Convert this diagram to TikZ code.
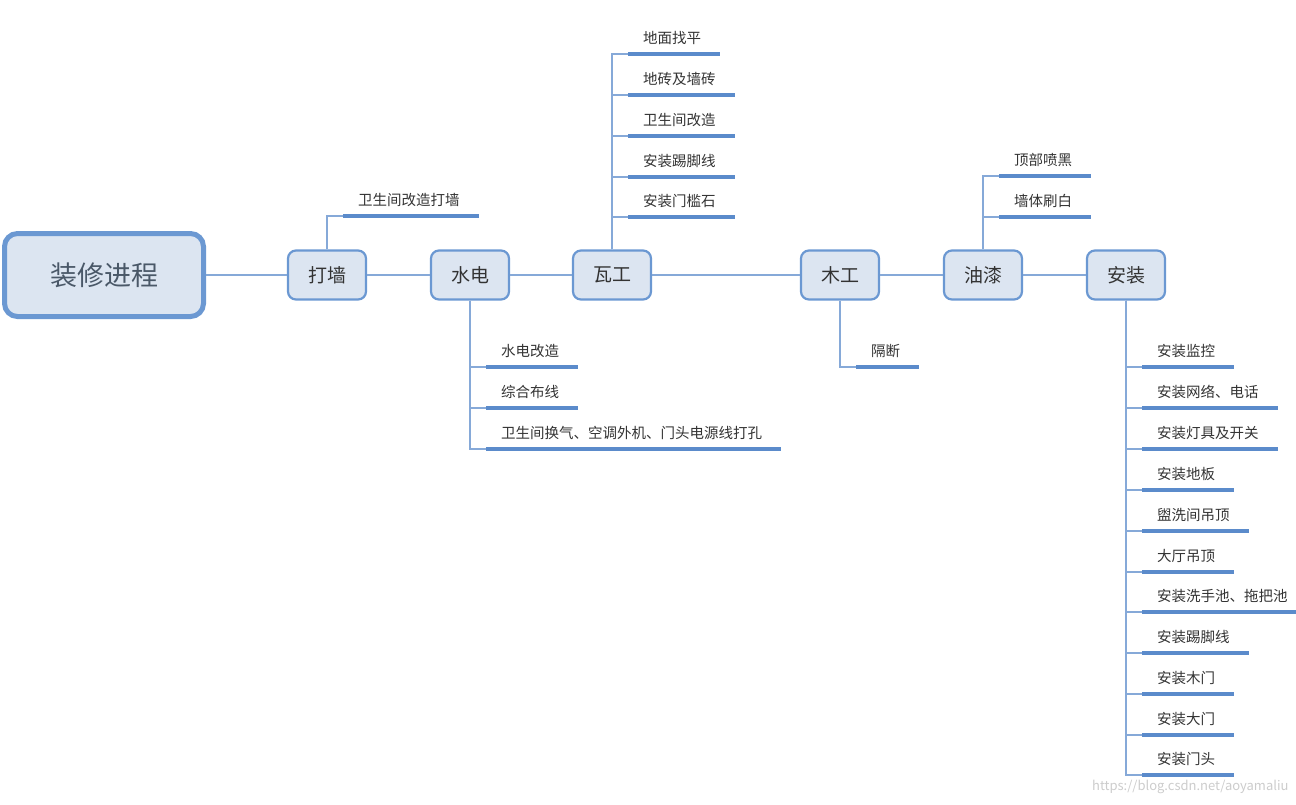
\documentclass[tikz,border=0pt]{standalone}
\usepackage{fontspec}
\setmainfont{Noto Sans CJK SC}
\usetikzlibrary{positioning}
\definecolor{boxfill}{HTML}{DCE5F1}
\definecolor{boxline}{HTML}{6B98D2}
\definecolor{ulinecol}{HTML}{5B8BCB}
\definecolor{linkcol}{HTML}{86A9D8}
\definecolor{txt}{HTML}{333333}
\definecolor{roottxt}{HTML}{4A5868}
\begin{document}
\begin{tikzpicture}[x=1pt, y=-1pt,
	stage/.style={draw=boxline, fill=boxfill, line width=2.2pt, rounded corners=8pt, minimum width=78pt, minimum height=49pt, font=\fontsize{19}{19}\selectfont, text=txt},
	root/.style={stage, line width=5pt, rounded corners=13pt, minimum width=199pt, minimum height=83pt, font=\fontsize{27}{27}\selectfont, text=roottxt},
	leaf/.style={anchor=south west, inner xsep=0pt, inner ysep=7pt, text height=11pt, text depth=3pt, font=\fontsize{14.5}{14.5}\selectfont, text=txt},
	trunk/.style={draw=linkcol, line width=1.6pt},
	uline/.style={draw=ulinecol, line width=3.5pt}]
	\useasboundingbox (0,0) rectangle (1296,804);
	\node[root] (jc) at (104,275) {装修进程};
	\node[stage] (dq) at (327,275) {打墙};
	\node[stage] (sd) at (470,275) {水电};
	\node[stage] (wg) at (612,275) {瓦工};
	\node[stage] (mg) at (840,275) {木工};
	\node[stage] (yq) at (983,275) {油漆};
	\node[stage] (az) at (1126,275) {安装};
	\foreach \a/\b in {jc/dq,dq/sd,sd/wg,wg/mg,mg/yq,yq/az}
		\draw[trunk] (\a) -- (\b);
	\foreach \s/\side/\y/\n/\t in {
			dq/north/216/dq1/卫生间改造打墙,
			wg/north/54/wg1/地面找平, wg/north/95/wg2/地砖及墙砖, wg/north/136/wg3/卫生间改造,
			wg/north/177/wg4/安装踢脚线, wg/north/217/wg5/安装门槛石,
			sd/south/367/sd1/水电改造, sd/south/408/sd2/综合布线,
			sd/south/449/sd3/卫生间换气、空调外机、门头电源线打孔,
			mg/south/367/mg1/隔断,
			yq/north/176/yq1/顶部喷黑, yq/north/217/yq2/墙体刷白,
			az/south/367/az1/安装监控, az/south/408/az2/安装网络、电话, az/south/449/az3/安装灯具及开关,
			az/south/490/az4/安装地板, az/south/531/az5/盥洗间吊顶, az/south/572/az6/大厅吊顶,
			az/south/612/az7/安装洗手池、拖把池, az/south/653/az8/安装踢脚线, az/south/694/az9/安装木门,
			az/south/735/az10/安装大门, az/south/775/az11/安装门头}{
		\node[leaf] (\n) at ([xshift=31pt]\s.center |- 0,\y) {\t};
		\draw[trunk] (\s.\side) |- ([xshift=-15pt]\n.south west);
		\draw[uline] ([xshift=-15pt]\n.south west) -- ([xshift=19pt]\n.south east);
	}
	\node[anchor=east, text=gray!40, font=\fontsize{13}{13}\selectfont] (wm) at (1292,787) {https://blog.csdn.net/aoyamaliu};
\end{tikzpicture}
\end{document}
